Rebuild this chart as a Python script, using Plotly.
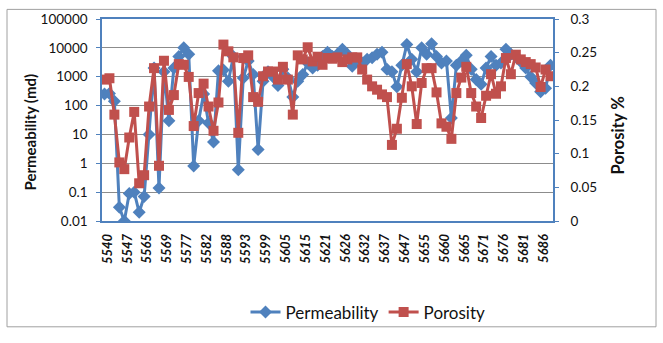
import plotly.graph_objects as go

# ---------------- data ----------------
depth_labels = ["5540", "5547", "5565", "5569", "5577", "5582", "5588", "5593",
                "5599", "5605", "5615", "5621", "5626", "5632", "5637", "5647",
                "5655", "5660", "5665", "5671", "5676", "5681", "5686"]
label_step = 4  # one depth label every 4 samples

permeability = [250, 260, 140, 0.03, 0.01, 0.09, 0.1, 0.02, 0.07, 10,
                2000, 0.14, 1500, 30, 2000, 5000, 10000, 6000, 0.8, 30,
                250, 25, 5.5, 1600, 1700, 700, 5000, 0.6, 900, 3500,
                1200, 3, 700, 1500, 1000, 500, 1800, 900, 200, 700,
                1200, 3000, 2000, 2500, 5000, 7000, 5000, 6000, 9000, 6000,
                2300, 3500, 3000, 4000, 4500, 6000, 7000, 1800, 1500, 450,
                2500, 13000, 4000, 1500, 10000, 6000, 14000, 5000, 3000, 3500,
                37, 2500, 3500, 5500, 1800, 800, 550, 2000, 5000, 2500,
                3000, 9000, 6000, 5000, 3300, 2000, 1000, 600, 300, 400,
                2500]

porosity = [0.21, 0.212, 0.158, 0.087, 0.077, 0.124, 0.162, 0.056, 0.068, 0.17,
            0.227, 0.082, 0.238, 0.165, 0.187, 0.233, 0.232, 0.214, 0.141, 0.19,
            0.204, 0.17, 0.134, 0.176, 0.262, 0.252, 0.243, 0.131, 0.242, 0.246,
            0.184, 0.177, 0.215, 0.222, 0.222, 0.21, 0.229, 0.21, 0.158, 0.246,
            0.24, 0.258, 0.237, 0.244, 0.232, 0.242, 0.241, 0.243, 0.236, 0.24,
            0.243, 0.243, 0.225, 0.21, 0.2, 0.195, 0.188, 0.184, 0.113, 0.137,
            0.183, 0.233, 0.2, 0.144, 0.205, 0.227, 0.227, 0.191, 0.145, 0.14,
            0.122, 0.19, 0.213, 0.229, 0.19, 0.17, 0.153, 0.186, 0.218, 0.189,
            0.2, 0.242, 0.218, 0.247, 0.24, 0.236, 0.233, 0.228, 0.199, 0.225,
            0.215]

perm_ticks = [0.01, 0.1, 1, 10, 100, 1000, 10000, 100000]
perm_tick_text = ["0.01", "0.1", "1", "10", "100", "1000", "10000", "100000"]
por_ticks = [0, 0.05, 0.1, 0.15, 0.2, 0.25, 0.3]
por_tick_text = ["0", "0.05", "0.1", "0.15", "0.2", "0.25", "0.3"]

# ---------------- styling ----------------
BLUE = "#4F81BD"
RED = "#C0504D"
AXIS = "#4F81BD"
GRID = "#8C8C8C"
TXT = "#111111"
FONT = "Lato"

n = len(permeability)
xs = list(range(n))
tickvals = [i * label_step for i in range(len(depth_labels))]

W, H = 663, 343
L, R, T, B = 102, 553, 19, 229  # plot area pixel box


def px_x(p):
    return (p - L) / (R - L)


def px_y(p):
    return (B - p) / (B - T)


fig = go.Figure()
fig.add_trace(go.Scatter(
    x=xs, y=permeability, name="Permeability", mode="lines+markers",
    line=dict(color=BLUE, width=3),
    marker=dict(symbol="diamond", size=10, color=BLUE),
    yaxis="y"))
fig.add_trace(go.Scatter(
    x=xs, y=porosity, name="Porosity", mode="lines+markers",
    line=dict(color=RED, width=3),
    marker=dict(symbol="square", size=10, color=RED),
    yaxis="y2"))

fig.update_layout(
    width=W, height=H, autosize=False,
    margin=dict(l=L, r=W - R, t=T, b=H - B, pad=0),
    paper_bgcolor="white", plot_bgcolor="white",
    font=dict(family=FONT, color=TXT, size=13),
    showlegend=True,
    legend=dict(orientation="h", x=px_x(368), xanchor="center",
                y=px_y(324), yanchor="middle",
                font=dict(family=FONT, size=17, color=TXT),
                bgcolor="rgba(0,0,0,0)"),
    xaxis=dict(range=[-0.5, n - 0.5], tickmode="array", tickvals=tickvals,
               ticktext=depth_labels, tickangle=-90,
               tickfont=dict(family=FONT, size=13, color=TXT, style="italic",
                             weight="bold"),
               showline=True, linecolor=AXIS, linewidth=1.5, mirror=True,
               showgrid=False, zeroline=False, ticks="", ticklabelshift=3,
               ticklabelstandoff=6),
    yaxis=dict(type="log", range=[-2, 5], tickmode="array",
               tickvals=perm_ticks, ticktext=perm_tick_text,
               tickfont=dict(family=FONT, size=13.5, color=TXT),
               showline=True, linecolor=AXIS, linewidth=1.5,
               ticks="outside", ticklen=4, tickcolor=AXIS,
               showgrid=True, gridcolor=GRID, gridwidth=1, zeroline=False,
               ticklabelstandoff=6),
    yaxis2=dict(range=[0, 0.3], tickmode="array", tickvals=por_ticks,
                ticktext=por_tick_text, overlaying="y", side="right",
                tickfont=dict(family=FONT, size=13.5, color=TXT),
                showline=True, linecolor=AXIS, linewidth=1.5,
                ticks="outside", ticklen=4, tickcolor=AXIS,
                showgrid=False, zeroline=False, ticklabelstandoff=9),
)

fig.add_annotation(text="<b>Permeability (md)</b>", xref="paper", yref="paper",
                   x=px_x(30), y=px_y(137), textangle=-90, showarrow=False,
                   xanchor="center", yanchor="middle",
                   font=dict(family=FONT, size=15, color=TXT))
fig.add_annotation(text="<b>Porosity %</b>", xref="paper", yref="paper",
                   x=px_x(618), y=px_y(140), textangle=-90, showarrow=False,
                   xanchor="center", yanchor="middle",
                   font=dict(family=FONT, size=16.5, color=TXT))

# chart-area border
fig.add_shape(type="rect", xref="paper", yref="paper",
              x0=px_x(7), x1=px_x(656), y0=px_y(339), y1=px_y(9),
              line=dict(color="#A0A0A0", width=1), fillcolor="rgba(0,0,0,0)",
              layer="below")

fig.write_html("out.html")
